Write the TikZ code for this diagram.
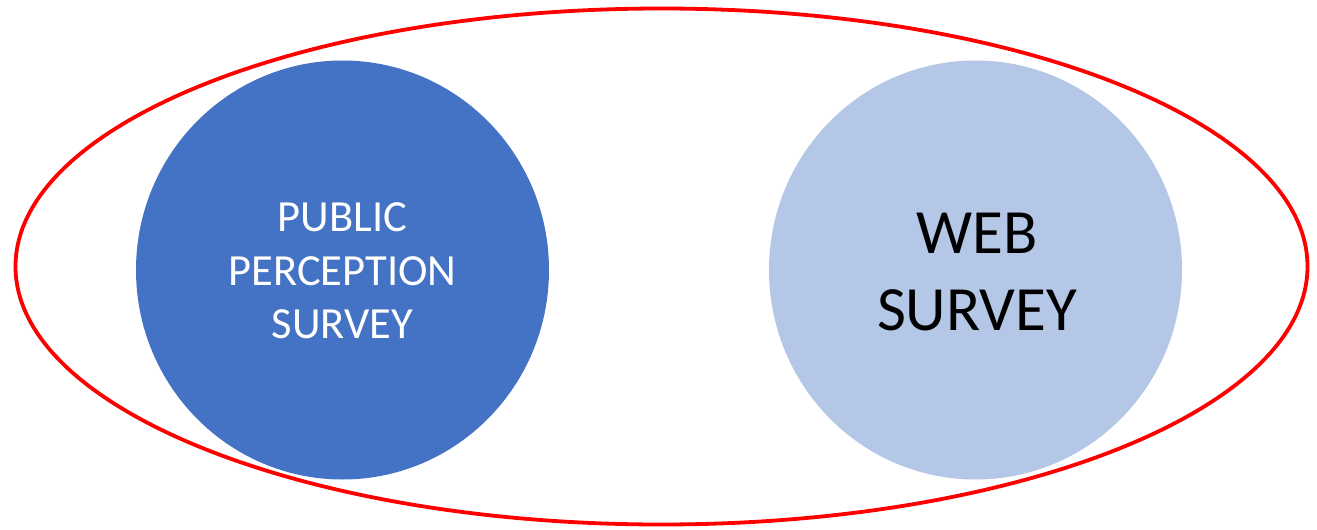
\documentclass[tikz,border=0pt]{standalone}
\usepackage{fontspec}
\usetikzlibrary{shapes.geometric}
\setmainfont{Carlito}
\definecolor{darkblue}{HTML}{4472C4}
\definecolor{lightblue}{HTML}{B4C7E7}
\definecolor{ringred}{HTML}{FF0000}
\begin{document}
\begin{tikzpicture}[x=1pt,y=-1pt,
  bigcircle/.style={ellipse,minimum width=413pt,minimum height=419pt,inner sep=0pt},
  ringstyle/.style={draw=ringred,line width=3.8pt}]
\useasboundingbox (0,0) rectangle (1317,530);
\fill[white] (0,0) rectangle (1317,530);
\draw[ringstyle] (661.5,266.5) ellipse[x radius=646,y radius=258];
\node[bigcircle,fill=darkblue] (pps) at (342.5,270) {};
\node[bigcircle,fill=lightblue] (web) at (975.5,270) {};
\node[text=white,align=center,font=\fontsize{44.5}{53.5}\selectfont] (ppst) at (342.5,271) {PUBLIC\\PERCEPTION\\SURVEY};
\node[text=black,align=center,font=\fontsize{63}{77}\selectfont] (webt) at (977,272) {WEB\\SURVEY};
\end{tikzpicture}
\end{document}
